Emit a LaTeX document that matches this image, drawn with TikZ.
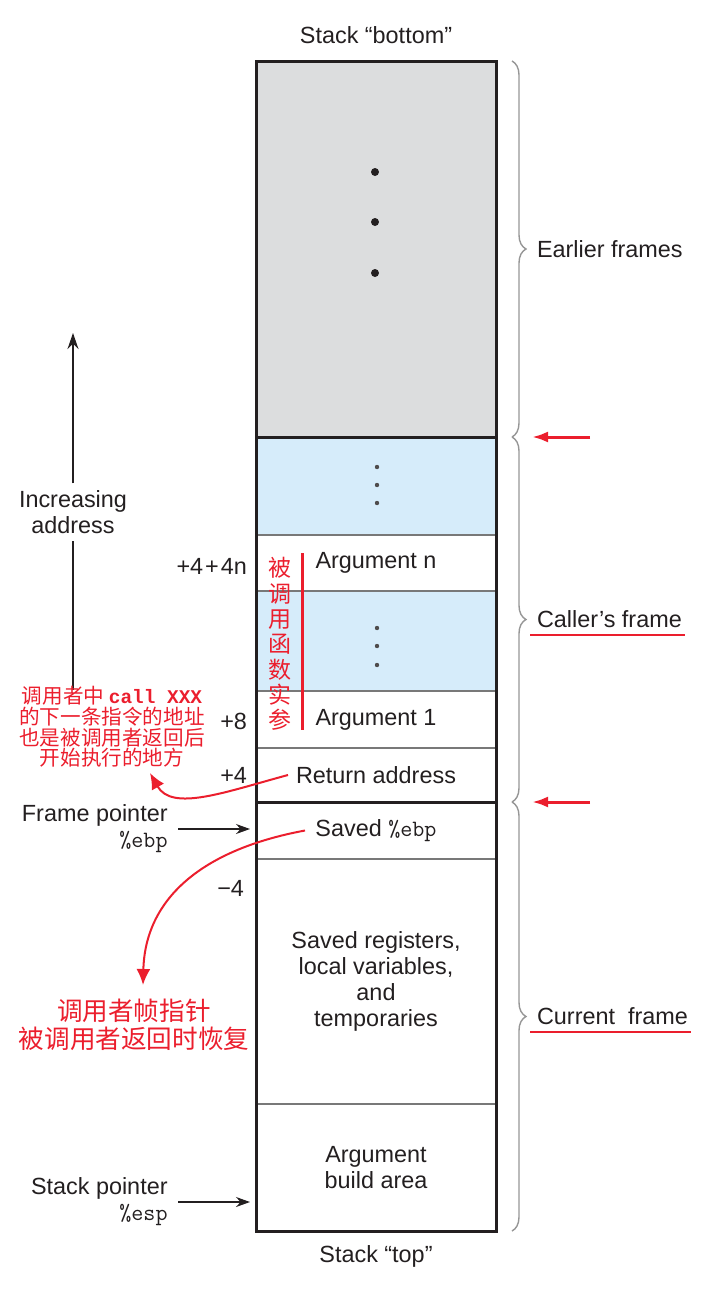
\documentclass[tikz,border=0pt]{standalone}
\usepackage{fontspec}
\setmainfont{Liberation Sans}
\newfontfamily\cjk{Noto Sans CJK SC}
\newfontfamily\codefont{Liberation Mono}
\usepackage{xcolor}
\usetikzlibrary{arrows.meta,positioning,calc,decorations.pathreplacing}
\definecolor{ink}{RGB}{35,31,32}
\definecolor{cellgray}{RGB}{220,221,222}
\definecolor{cellblue}{RGB}{214,236,250}
\definecolor{linegray}{RGB}{120,120,120}
\definecolor{bracegray}{RGB}{150,150,150}
\definecolor{notered}{RGB}{235,30,45}
\newcommand{\lblfont}{\fontsize{11.7}{13}\selectfont}
\tikzset{
  cell/.style   ={rectangle, draw=linegray, line width=0.75pt, minimum width=120pt,
                  inner sep=0pt, outer sep=0pt, align=center, text=ink, font=\lblfont},
  outer/.style  ={draw=ink, line width=1.5pt},
  sep/.style    ={draw=ink, line width=1.5pt},
  lbl/.style    ={text=ink, font=\lblfont, align=center},
  offs/.style   ={text=ink, font=\lblfont, anchor=east},
  ptrlbl/.style ={text=ink, font=\lblfont, align=right, anchor=east, inner sep=0pt},
  ptr/.style    ={-{Stealth[length=7pt,width=5pt]}, draw=ink, line width=0.6pt, shorten >=3pt},
  brc/.style    ={decorate, decoration={brace, amplitude=7pt}, draw=bracegray, line width=0.7pt},
  note/.style   ={text=notered, align=center, inner sep=0pt},
  redarr/.style ={-{Latex[length=8pt,width=5.5pt]}, draw=notered, line width=1.5pt},
  redcurve/.style={-{Latex[length=8pt,width=7pt]}, draw=notered, line width=1pt},
  uline/.style  ={draw=notered, line width=1pt},
}

\begin{document}
\begin{tikzpicture}[x=0.5pt, y=-0.5pt]
\useasboundingbox (0,0) rectangle (712,1290);

\node[cell, fill=cellgray, minimum height=188pt] (earlier) at (376,249) {};
\node[cell, fill=cellblue, minimum height=49pt, below=0pt of earlier] (callerdots) {};
\node[cell, minimum height=28pt, below=0pt of callerdots] (argn) {Argument n};
\node[cell, fill=cellblue, minimum height=50pt, below=0pt of argn] (argdots) {};
\node[cell, minimum height=28.5pt, below=0pt of argdots] (argone) {Argument 1};
\node[cell, minimum height=27pt, below=0pt of argone] (retaddr) {Return address};
\node[cell, minimum height=28.5pt, below=0pt of retaddr] (savedebp) {Saved \texttt{\%ebp}};
\node[cell, minimum height=122.5pt, below=0pt of savedebp] (savedregs)
  {Saved registers,\\local variables,\\and\\temporaries};
\node[cell, minimum height=63.5pt, below=0pt of savedregs] (argbuild) {Argument\\build area};

\draw[outer] (earlier.north west) rectangle (argbuild.south east);
\draw[sep] (earlier.south west) -- (earlier.south east);
\draw[sep] (retaddr.south west) -- (retaddr.south east);

\foreach \y in {172,222,273} \fill[ink] (375,\y) circle (2pt);
\foreach \y in {467,485,503} \fill[ink!80] (377,\y) circle (1.1pt);
\foreach \y in {628,646,665} \fill[ink!80] (377,\y) circle (1.1pt);

\node[lbl] (stackbottom) at (376,35) {Stack “bottom”};
\node[lbl] (stacktop) at (376,1256) {Stack “top”};

\draw[brc] ([xshift=8pt]earlier.north east) -- ([xshift=8pt]earlier.south east);
\draw[brc] ([xshift=8pt]earlier.south east) -- ([xshift=8pt]retaddr.south east);
\draw[brc] ([xshift=8pt]retaddr.south east) -- ([xshift=8pt]argbuild.south east);

\node[lbl, anchor=west] (earlierlbl) at ([xshift=17pt]earlier.east) {Earlier frames};
\node[lbl, anchor=west] (callerlbl) at ($(earlier.south east)!0.5!(retaddr.south east)+(17pt,0)$) {Caller's frame};
\node[lbl, anchor=west] (currentlbl) at ($(retaddr.south east)!0.5!(argbuild.south east)+(17pt,0)$) {Current\ \ frame};
\draw[uline] ([yshift=-3.5pt]callerlbl.base west) -- ([yshift=-3.5pt,xshift=-2pt]callerlbl.base east);
\draw[uline] ([yshift=-3.5pt]currentlbl.base west) -- ([yshift=-3.5pt,xshift=-2pt]currentlbl.base east);

\coordinate (jone) at ([xshift=18pt]earlier.south east);
\coordinate (jonetail) at ([xshift=47pt]earlier.south east);
\coordinate (jtwo) at ([xshift=18pt]retaddr.south east);
\coordinate (jtwotail) at ([xshift=47pt]retaddr.south east);
\draw[redarr] (jonetail) -- (jone);
\draw[redarr] (jtwotail) -- (jtwo);

\node[offs, left=1pt of argn, yshift=-1.5pt] (offn) {+4\kern1pt+\kern1pt4n};
\node[offs, left=1pt of argone, yshift=-1pt] (offeight) {+8};
\node[offs, left=1pt of retaddr] (offfour) {+4};
\node[offs] (offminus) at (251,888) {−4};

\node[lbl] (incr) at (73,512) {Increasing\\address};
\coordinate (uptip) at (73,333);
\coordinate (upfoot) at (73,690);
\draw[draw=ink, line width=0.75pt] (upfoot) -- (incr);
\draw[draw=ink, line width=0.75pt, -{Stealth[length=8pt,width=5.5pt]}] (incr) -- (uptip);

\node[ptrlbl] (fp) at (168,829) {Frame pointer\\\texttt{\%ebp}};
\node[ptrlbl] (sp) at (168,1202) {Stack pointer\\\texttt{\%esp}};
\draw[ptr] ([xshift=5pt]fp.east) -- (fp.east -| savedebp.west);
\draw[ptr] ([xshift=5pt]sp.east) -- (sp.east -| argbuild.west);

\node[note, font=\cjk\fontsize{11.5}{12.65}\selectfont] (argnote) at (280,644)
  {被\\调\\用\\函\\数\\实\\参};
\draw[notered, line width=1.5pt] (302,553) -- (302,730);

\node[note, font=\cjk\fontsize{10.3}{10.4}\selectfont] (retnote) at (112,727)
  {调用者中 {\codefont\bfseries\fontsize{9.7}{10}\selectfont call XXX}\\的下一条指令的地址\\也是被调用者返回后\\开始执行的地方};
\node[note, font=\cjk\fontsize{12.8}{14}\selectfont] (ebpnote) at (134,1025)
  {调用者帧指针\\被调用者返回时恢复};

\coordinate (rettip) at (150,773);
\coordinate (ebptip) at (143,985);
\draw[redcurve] ([xshift=16pt]retaddr.west) .. controls (225,792) and (172,812) .. (rettip);
\draw[redcurve] ([xshift=24.5pt]savedebp.west) .. controls (200,850) and (145,900) .. (ebptip);

\end{tikzpicture}
\end{document}
